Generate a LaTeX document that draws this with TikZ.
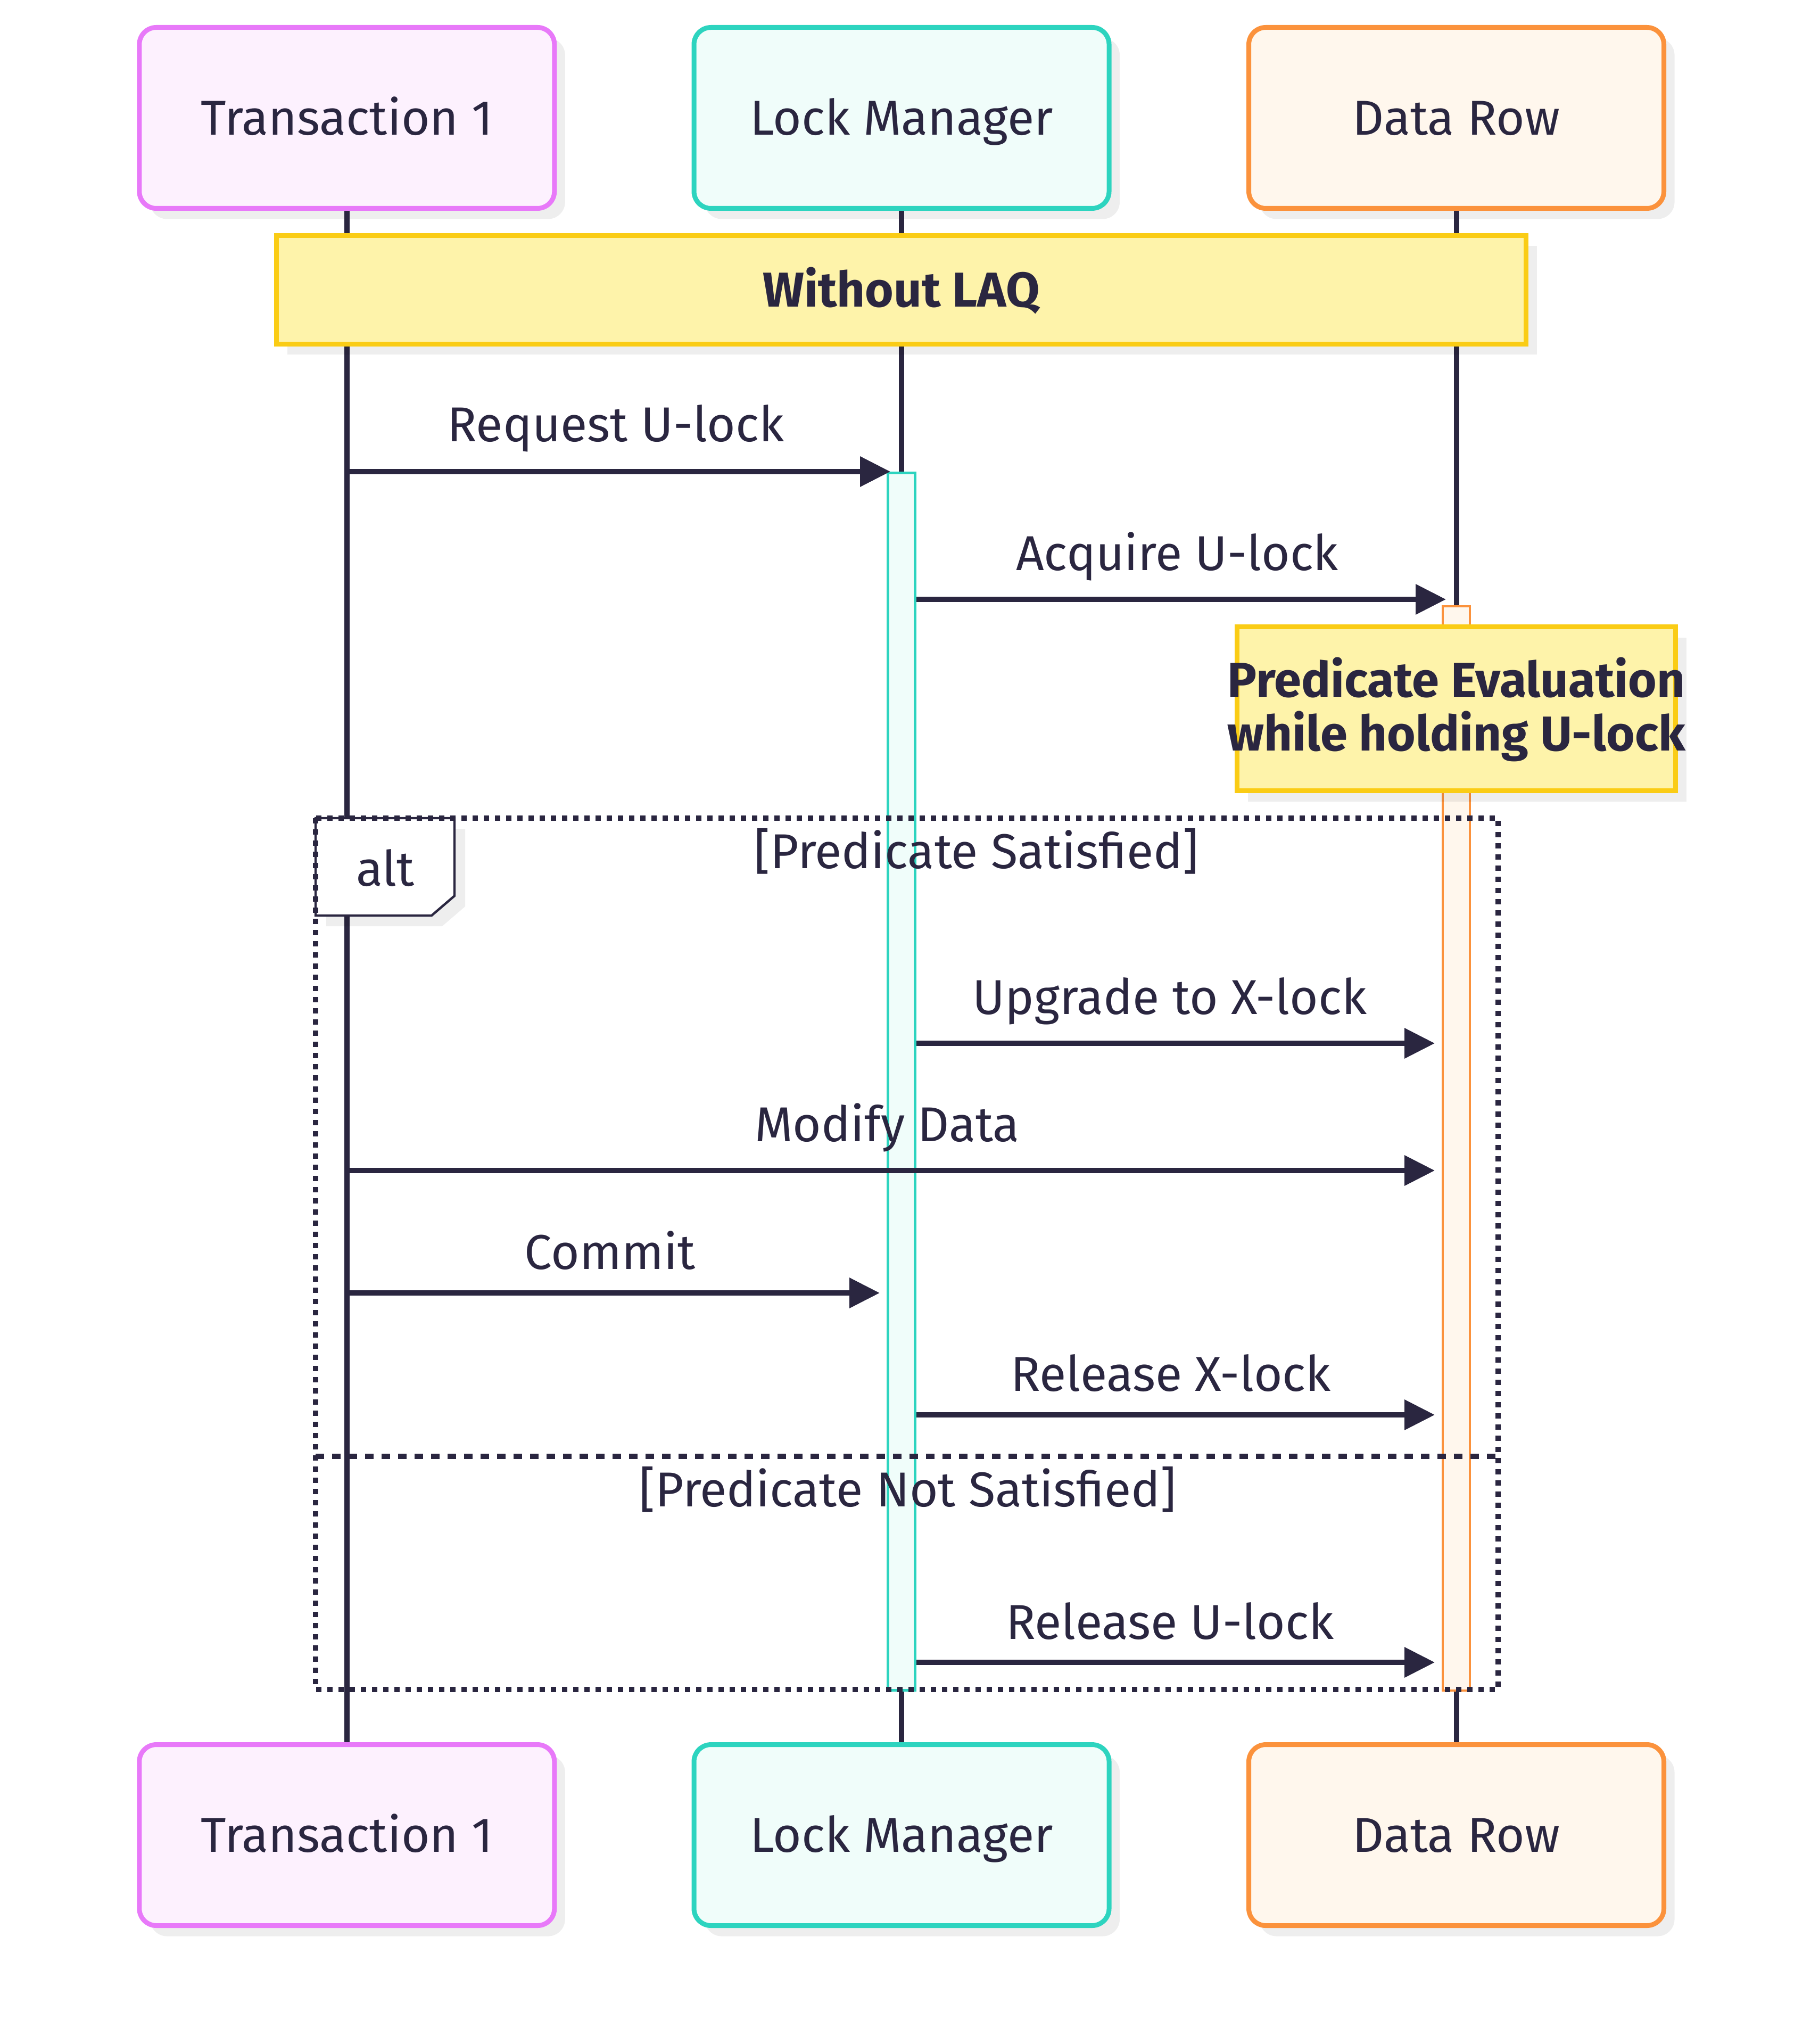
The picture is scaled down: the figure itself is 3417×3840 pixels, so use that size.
\documentclass[tikz,border=0pt]{standalone}
\usepackage{fontspec}
\setmainfont{Fira Sans}
\usetikzlibrary{arrows.meta,shadows}
\definecolor{ink}{RGB}{42,38,64}
\definecolor{pinkB}{RGB}{232,121,249}
\definecolor{pinkF}{RGB}{253,241,254}
\definecolor{tealB}{RGB}{45,212,191}
\definecolor{tealF}{RGB}{240,253,250}
\definecolor{orangeB}{RGB}{251,146,60}
\definecolor{orangeF}{RGB}{255,247,237}
\definecolor{noteB}{RGB}{250,204,21}
\definecolor{noteF}{RGB}{254,243,170}
\tikzset{
  fnt/.style={font=\fontsize{23}{27}\selectfont},
  bfnt/.style={font=\fontsize{23}{27}\selectfont\bfseries},
  shad/.style={drop shadow={shadow xshift=5pt,shadow yshift=-5pt,fill=black,opacity=0.065}},
  actorbox/.style={shape=rectangle, rounded corners=8pt, line width=2.25pt, minimum width=195pt, minimum height=85pt, inner sep=0pt, text=ink, fnt, text height=15.85pt, text depth=0pt, shad},
  pinkactor/.style={actorbox, draw=pinkB, fill=pinkF},
  tealactor/.style={actorbox, draw=tealB, fill=tealF},
  orangeactor/.style={actorbox, draw=orangeB, fill=orangeF},
  notebox/.style={shape=rectangle, draw=noteB, fill=noteF, line width=2.25pt, inner sep=0pt, shad},
  life/.style={draw=ink, line width=2.5pt},
  msg/.style={draw=ink, line width=2.5pt, -{Triangle[length=14.25pt,width=13.75pt]}},
  msglabel/.style={fnt, text=ink, anchor=base, inner sep=0pt},
  notelabel/.style={bfnt, text=ink, anchor=base, inner sep=0pt},
  actbar/.style={shape=rectangle, inner sep=0pt, minimum width=12.75pt, anchor=north},
  altline/.style={draw=ink, line width=2.5pt, dash pattern=on 2.5pt off 2.75pt},
  sepline/.style={draw=ink, line width=2.5pt, dash pattern=on 4pt off 3.75pt},
}
\begin{document}
\begin{tikzpicture}[x=0.25pt,y=-0.25pt]
\fill[white] (0,0) rectangle (3417,3840);
\useasboundingbox (0,0) rectangle (3417,3840);

% actors
\node[pinkactor] (t1) at (651.8,221.5) {Transaction 1};
\node[tealactor] (lm) at (1694,221.5) {Lock Manager};
\node[orangeactor] (dr) at (2736.5,221.5) {Data Row};
\node[pinkactor] (t1b) at (651.8,3447.5) {Transaction 1};
\node[tealactor] (lmb) at (1694,3447.5) {Lock Manager};
\node[orangeactor] (drb) at (2736.5,3447.5) {Data Row};

% lifelines
\draw[life] (t1.south) -- (t1b.north);
\draw[life] (lm.south) -- (lmb.north);
\draw[life] (dr.south) -- (drb.north);

% note Without LAQ
\node[notebox, minimum width=587pt, minimum height=51pt, bfnt, text=ink, text height=15.85pt, text depth=0pt] (n1) at (1693.5,544.5) {Without LAQ};

% activation bars
\node[actbar, draw=tealB, fill=tealF, line width=1.25pt, minimum height=571.75pt] (lmact) at (1694,885.5) {};
\node[actbar, draw=orangeB, fill=orangeF, line width=1pt, minimum height=509.25pt] (dract) at (2736.5,1137) {};

% message labels
\node[msglabel] (l1) at (1157,830) {Request U-lock};
\node[msglabel] (l2) at (2212,1071) {Acquire U-lock};
\node[msglabel] (l3) at (2198,1905) {Upgrade to X-lock};
\node[msglabel] (l4) at (1667,2144) {Modify Data};
\node[msglabel] (l5) at (1146,2384) {Commit};
\node[msglabel] (l6) at (2200,2613) {Release X-lock};
\node[msglabel] (l7) at (2198,3079) {Release U-lock};

% message endpoints
\coordinate (m1s) at (651,886);  \coordinate (m1e) at (1673,886);
\coordinate (m2s) at (1722,1126); \coordinate (m2e) at (2717,1126);
\coordinate (m3s) at (1722,1960); \coordinate (m3e) at (2696,1960);
\coordinate (m4s) at (651,2199);  \coordinate (m4e) at (2696,2199);
\coordinate (m5s) at (651,2429);  \coordinate (m5e) at (1653,2429);
\coordinate (m6s) at (1722,2658); \coordinate (m6e) at (2696,2658);
\coordinate (m7s) at (1722,3123); \coordinate (m7e) at (2696,3123);

\draw[msg] (m1s) -- (m1e);
\draw[msg] (m2s) -- (m2e);
\draw[msg] (m3s) -- (m3e);
\draw[msg] (m4s) -- (m4e);
\draw[msg] (m5s) -- (m5e);
\draw[msg] (m6s) -- (m6e);
\draw[msg] (m7s) -- (m7e);

% note Predicate Evaluation
\node[notebox, minimum width=206pt, minimum height=77pt] (n2) at (2736.5,1331.5) {};
\node[notelabel] (n2a) at (2736.5,1309) {Predicate Evaluation};
\node[notelabel] (n2b) at (2736.5,1410) {while holding U-lock};

% alt fragment
\coordinate (altTL) at (593,1537);
\coordinate (altBR) at (2815,3174);
\coordinate (sepL) at (593,2736);
\coordinate (sepR) at (2815,2736);
\draw[draw=ink, fill=white, line width=1.1pt, shad] (593,1537) -- (854,1537) -- (854,1683) -- (811,1720) -- (593,1720) -- cycle;
\draw[altline] (altTL) rectangle (altBR);
\draw[sepline] (sepL) -- (sepR);
\node[msglabel] (altlbl) at (724,1664) {alt};
\node[msglabel] (c1) at (1835,1631) {[Predicate Satisfied]};
\node[msglabel] (c2) at (1706,2830) {[Predicate Not Satisfied]};
\end{tikzpicture}
\end{document}
